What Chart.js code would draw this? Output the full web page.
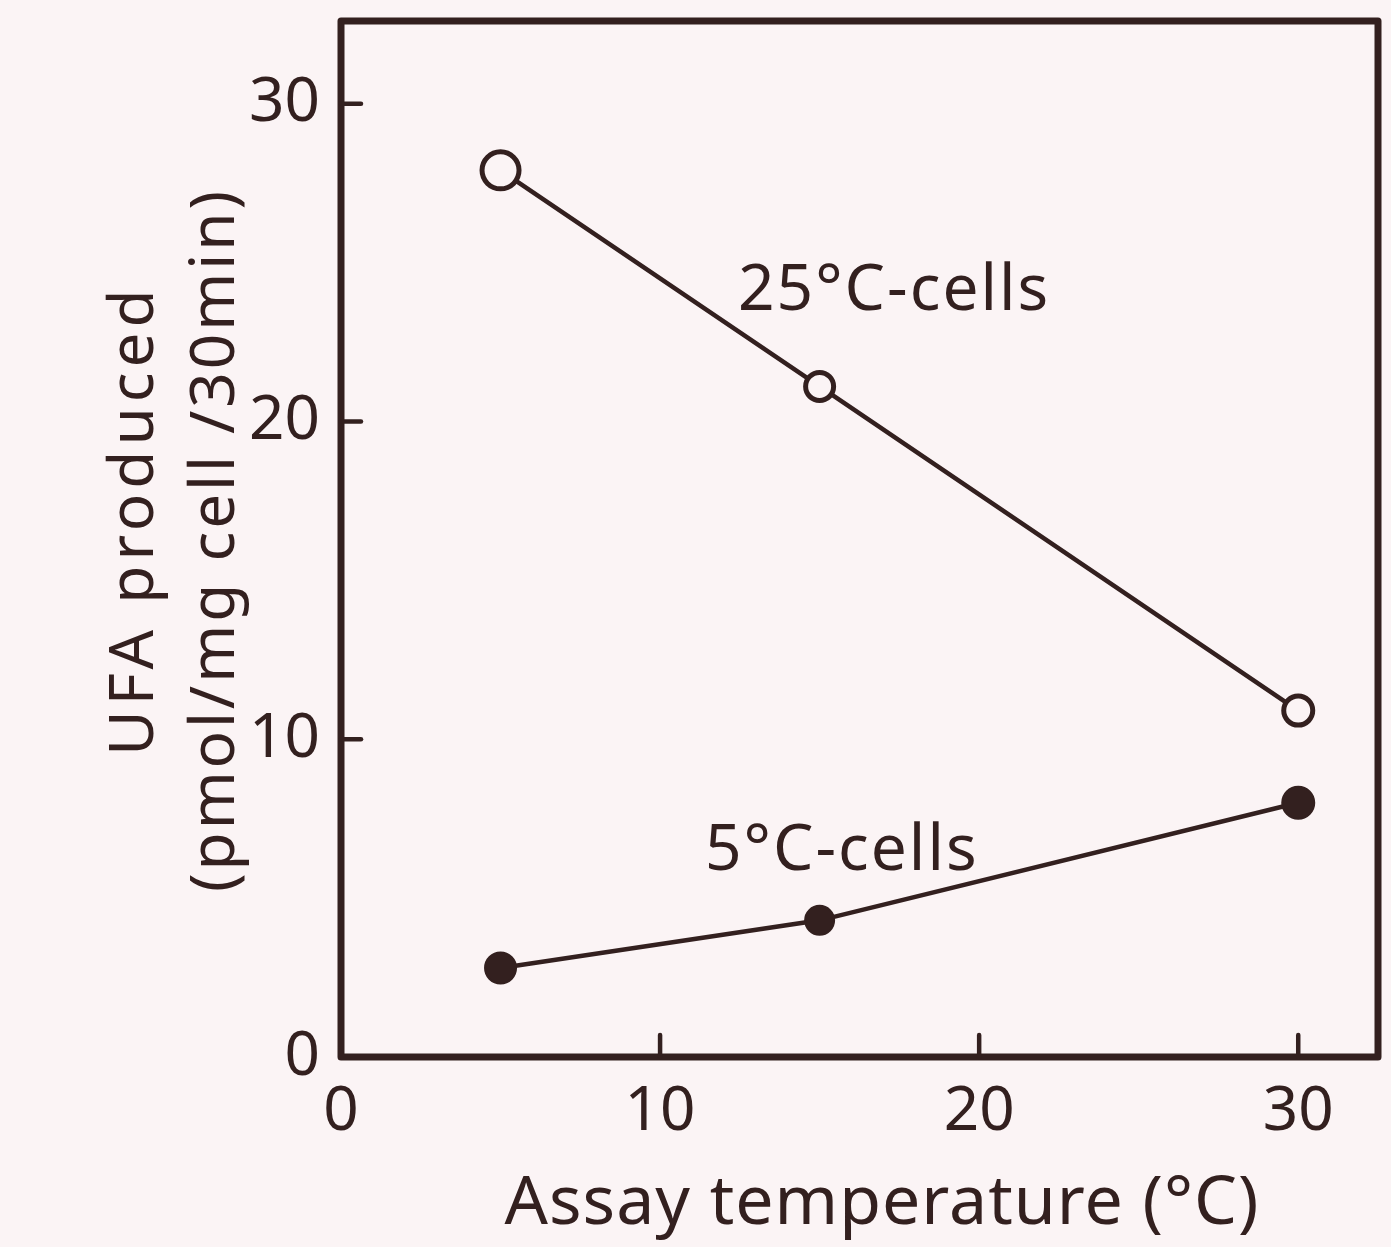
<!DOCTYPE html>
<html><head><meta charset="utf-8">
<script src="https://cdn.jsdelivr.net/npm/chart.js@4"></script>
<style>
html,body{margin:0;padding:0;background:#fbf4f5;}
#wrap{width:1391px;height:1247px;position:relative;}
</style>
</head><body>
<div id="wrap"><canvas id="c" width="1391" height="1247"></canvas></div>
<script>
// ---- data ----
const temperatures = [5, 15, 30];
const cells25 = [27.9, 21.1, 10.9];
const cells5 = [2.8, 4.3, 8.0];
const xTicks = [0, 10, 20, 30];
const yTicks = [0, 10, 20, 30];
const seriesLabels = ['25°C-cells', '5°C-cells'];
const xTitle = 'Assay temperature (°C)';
const yTitle = ['UFA produced', '(pmol/mg cell /30min)'];

const INK = '#33201f';
const BG = '#fbf4f5';
const FONT = '"Noto Sans", "Liberation Sans", sans-serif';

const toPoints = ys => temperatures.map((t, i) => ({x: t, y: ys[i]}));

const decorations = {
  id: 'decorations',
  beforeDraw(chart) {
    const ctx = chart.ctx;
    ctx.save();
    ctx.fillStyle = BG;
    ctx.fillRect(0, 0, chart.width, chart.height);
    ctx.restore();
  },
  beforeDatasetsDraw(chart) {
    const {ctx, chartArea: a, scales: {x, y}} = chart;
    ctx.save();
    ctx.strokeStyle = INK;
    ctx.lineJoin = 'round';
    ctx.lineCap = 'round';
    ctx.lineWidth = 7;
    ctx.strokeRect(a.left, a.top, a.right - a.left, a.bottom - a.top);
    ctx.lineWidth = 4.5;
    xTicks.forEach(v => {
      if (v === 0) return;
      const px = x.getPixelForValue(v);
      ctx.beginPath(); ctx.moveTo(px, a.bottom); ctx.lineTo(px, a.bottom - 22); ctx.stroke();
    });
    yTicks.forEach(v => {
      if (v === 0) return;
      const py = y.getPixelForValue(v);
      ctx.beginPath(); ctx.moveTo(a.left, py); ctx.lineTo(a.left + 20, py); ctx.stroke();
    });
    ctx.restore();
  },
  afterDraw(chart) {
    const {ctx} = chart;
    ctx.save();
    ctx.fillStyle = INK;
    ctx.textBaseline = 'alphabetic';
    // x axis title
    ctx.font = '68px ' + FONT;
    ctx.letterSpacing = '1px';
    ctx.textAlign = 'center';
    ctx.fillText(xTitle, 882, 1224);
    // y axis title (two rotated lines)
    ctx.save();
    ctx.rotate(-Math.PI / 2);
    ctx.textAlign = 'center';
    ctx.font = '62px ' + FONT;
    ctx.letterSpacing = '5px';
    ctx.fillText(yTitle[0], -520, 153);
    ctx.font = '62px ' + FONT;
    ctx.letterSpacing = '3px';
    ctx.fillText(yTitle[1], -540, 234);
    ctx.restore();
    // series labels
    ctx.font = '64px ' + FONT;
    ctx.letterSpacing = '2px';
    ctx.textAlign = 'left';
    ctx.fillText(seriesLabels[0], 738, 310);
    ctx.fillText(seriesLabels[1], 705, 870);
    ctx.restore();
  }
};

new Chart(document.getElementById('c'), {
  type: 'line',
  data: {
    datasets: [
      {
        label: seriesLabels[0],
        data: toPoints(cells25),
        borderColor: INK,
        borderWidth: 4.5,
        pointBackgroundColor: BG,
        pointBorderColor: INK,
        pointBorderWidth: 5,
        pointRadius: [18.5, 14, 14.5],
        tension: 0,
        clip: false
      },
      {
        label: seriesLabels[1],
        data: toPoints(cells5),
        borderColor: INK,
        borderWidth: 4.5,
        pointBackgroundColor: INK,
        pointBorderColor: INK,
        pointBorderWidth: 2,
        pointRadius: [15.5, 14.5, 16],
        tension: 0,
        clip: false
      }
    ]
  },
  options: {
    responsive: false,
    animation: false,
    events: [],
    layout: {autoPadding: false, padding: {left: 0, right: 13, top: 21, bottom: 0}},
    plugins: {legend: {display: false}, tooltip: {enabled: false}},
    scales: {
      x: {
        type: 'linear',
        min: 0, max: 32.5,
        afterBuildTicks: s => { s.ticks = xTicks.map(v => ({value: v})); },
        afterFit: s => { s.height = 190; s.paddingLeft = 0; s.paddingRight = 0; s.paddingTop = 0; s.paddingBottom = 0; },
        grid: {display: false, drawTicks: false},
        border: {display: false},
        ticks: {color: INK, font: {family: FONT, size: 62}, padding: 18, maxRotation: 0, autoSkip: false}
      },
      y: {
        type: 'linear',
        min: 0, max: 32.6,
        afterBuildTicks: s => { s.ticks = yTicks.map(v => ({value: v})); },
        afterFit: s => { s.width = 341; s.paddingLeft = 0; s.paddingRight = 0; s.paddingTop = 0; s.paddingBottom = 0; },
        grid: {display: false, drawTicks: false},
        border: {display: false},
        ticks: {color: INK, font: {family: FONT, size: 62}, padding: 21, autoSkip: false}
      }
    }
  },
  plugins: [decorations]
});
</script>
</body></html>
